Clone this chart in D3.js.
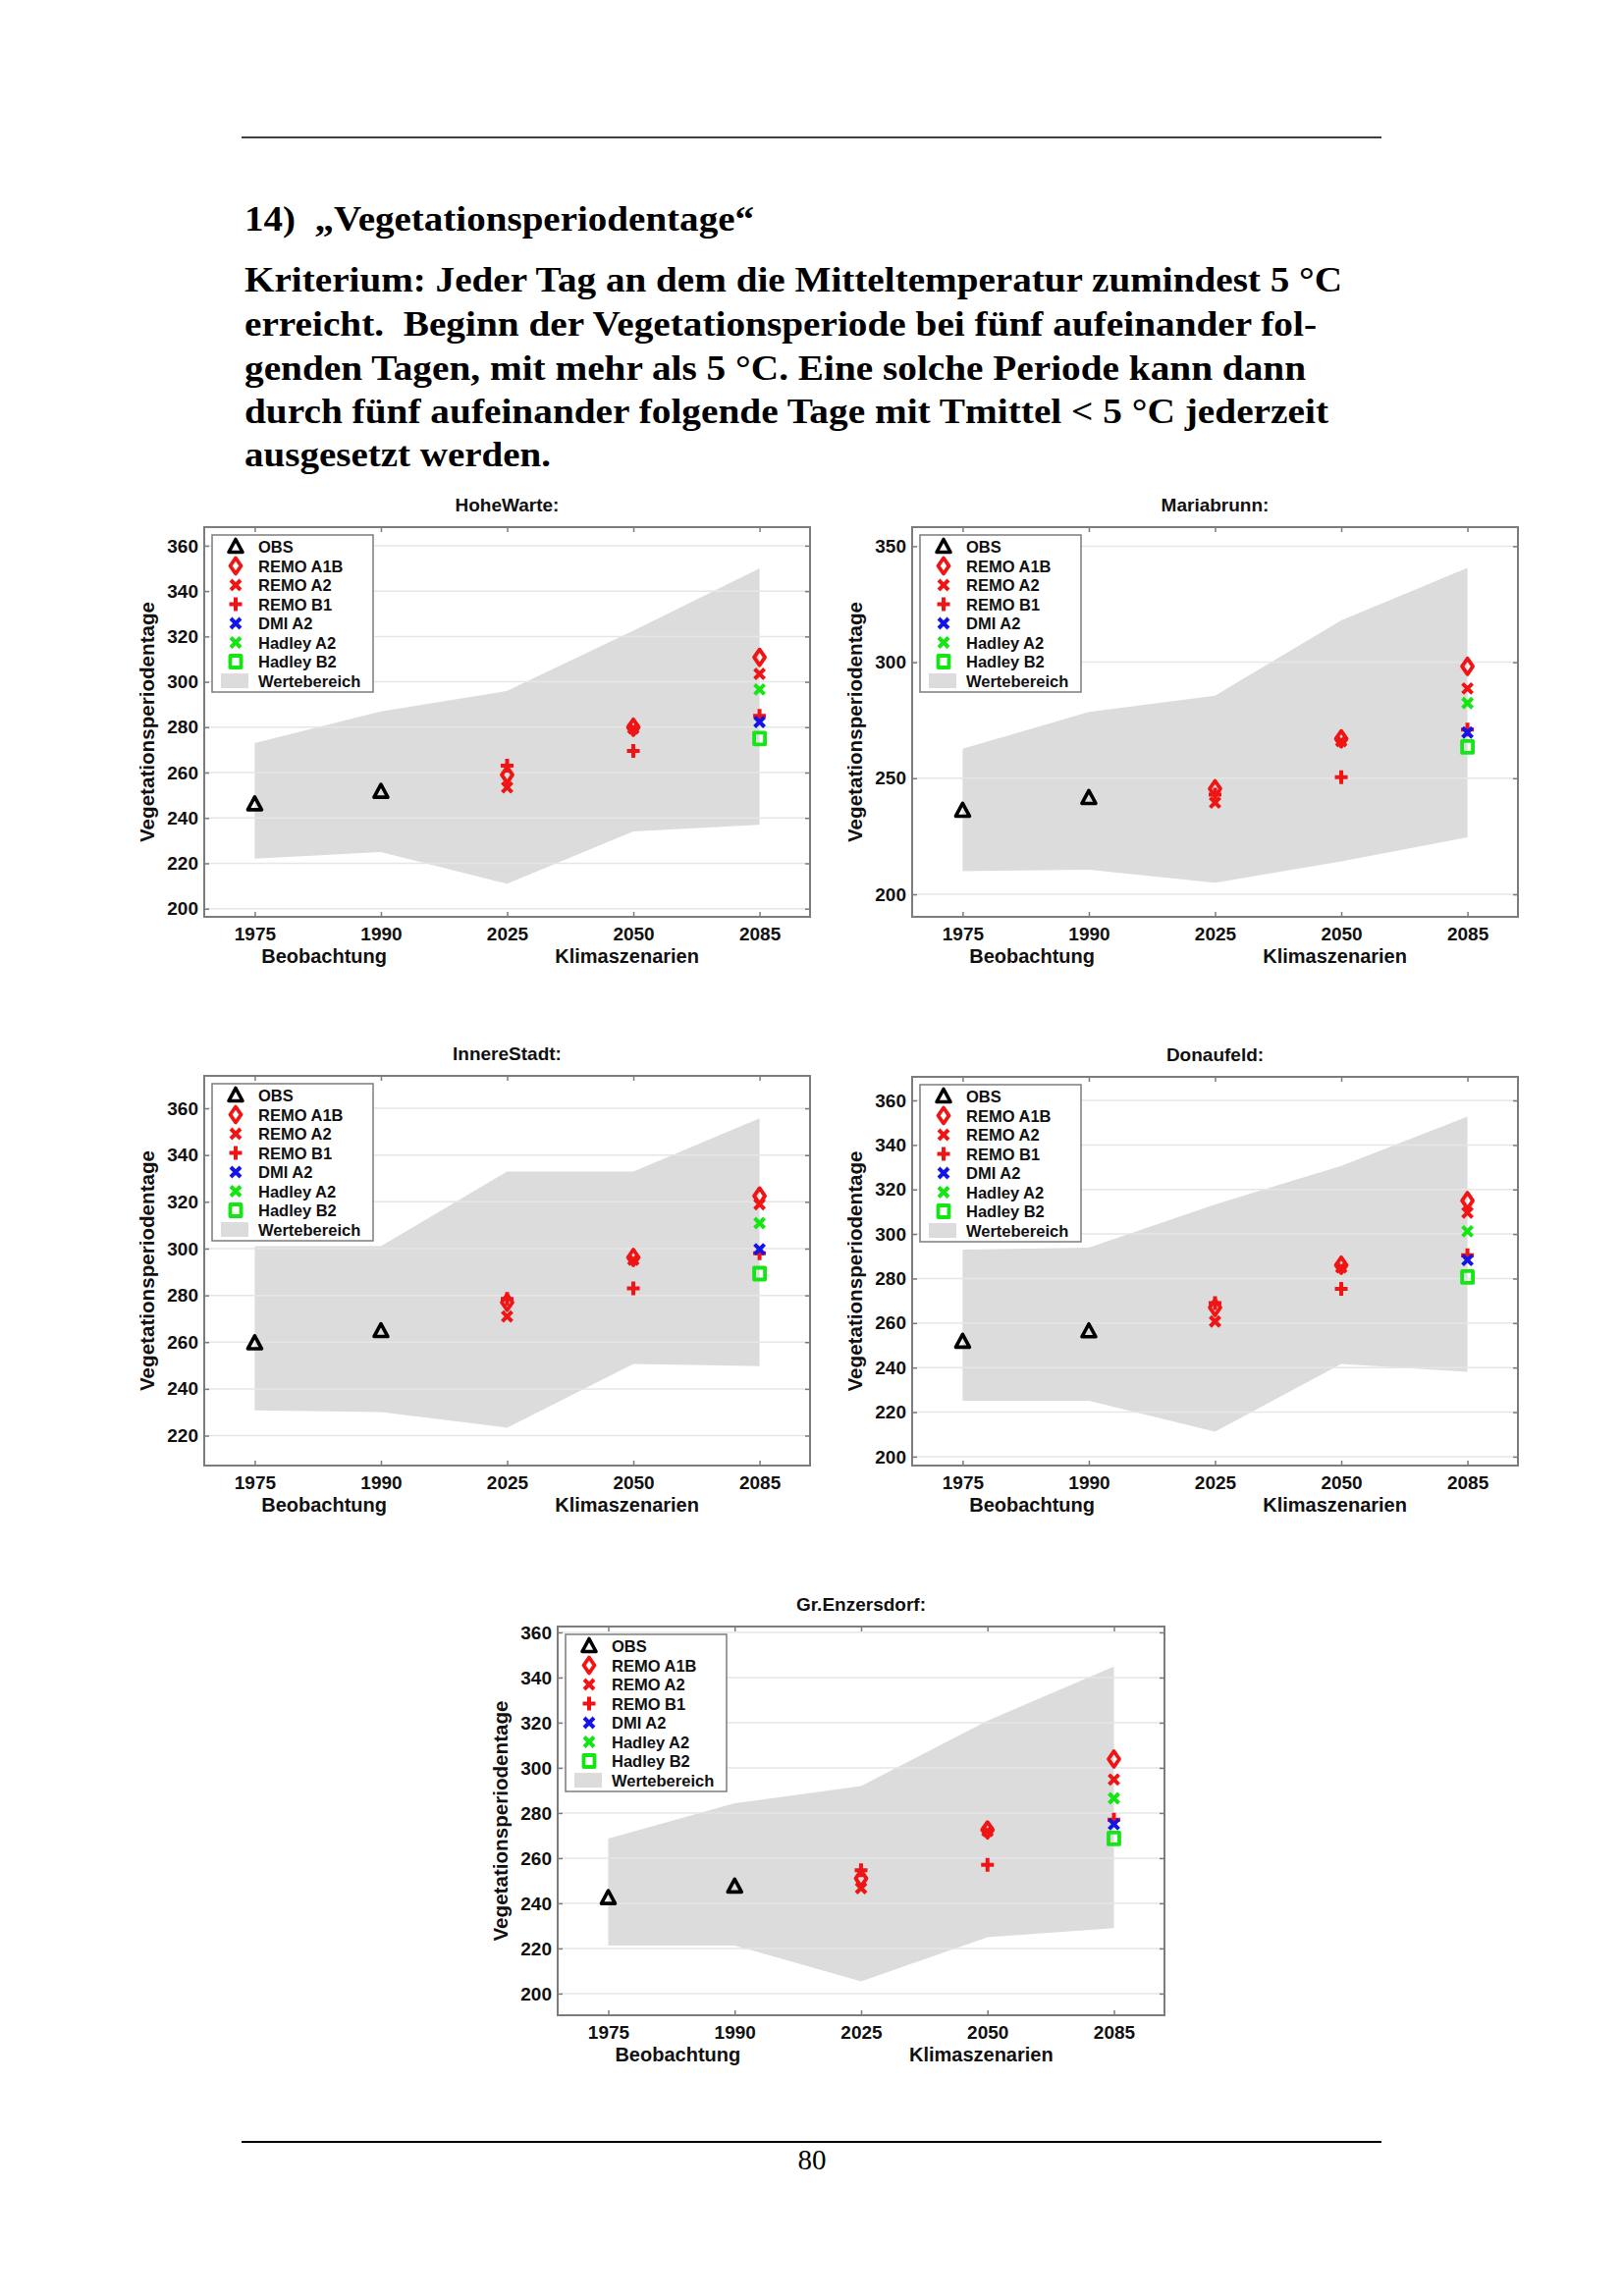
<!DOCTYPE html>
<html>
<head>
<meta charset="utf-8">
<script src="https://cdn.jsdelivr.net/npm/d3@7/dist/d3.min.js"></script>
<style>
  html, body { margin: 0; padding: 0; background: #ffffff; }
  svg { display: block; }
</style>
</head>
<body>
<script>
// ---------------- DATA ----------------
const categories = ["1975", "1990", "2025", "2050", "2085"];
const stations = ["HoheWarte:", "Mariabrunn:", "InnereStadt:", "Donaufeld:", "Gr.Enzersdorf:"];
const legendLabels = ["OBS", "REMO A1B", "REMO A2", "REMO B1", "DMI A2", "Hadley A2", "Hadley B2", "Wertebereich"];

// observations (1975, 1990), per station
const obsValues = [[246, 251.5], [236, 241.5], [259.5, 264.7], [251.6, 256.3], [242.3, 247.4]];
// scenarios (2025, 2050, 2085), per station
const remoA1B = [[259, 280, 310.8], [245.5, 267, 298.2], [277, 296.2, 322.5], [267, 286, 315], [251, 272.5, 303.9]];
const remoA2  = [[253.5, 279.5, 303.5], [239.5, 266, 288.7], [271, 295.2, 319], [260.7, 285, 309.6], [246.7, 272, 294.8]];
const remoB1  = [[263, 269.5, 285], [243, 250.5, 271], [278.5, 283, 298], [269, 275.4, 290.5], [254.6, 257, 277]];
// 2085 only, per station
const dmiA2    = [282.3, 269.7, 299.7, 288.3, 275];
const hadleyA2 = [296.6, 282.4, 310.9, 301.2, 286.5];
const hadleyB2 = [275, 263.5, 289.3, 280.7, 268.7];
// Wertebereich (range) at the five categories, per station
const rangeUpper = [[273, 287, 296, 322.5, 350], [262.7, 278.6, 285.6, 318, 340.6], [301, 301, 333, 333, 355.7], [293, 293.9, 313.3, 330.6, 352.7], [268.7, 284.3, 291.9, 320.9, 344.9]];
const rangeLower = [[222, 225, 211, 234, 237], [210, 210.6, 205, 214.2, 224.6], [230.8, 230.1, 223.4, 250.7, 249.7], [225.1, 225.1, 211.2, 241.6, 238.1], [221.3, 221.3, 205.4, 225, 229]];
// axis limits and tick labels, per station
const yLimits = [[196.4, 368.2], [190.3, 358.2], [207.2, 373.9], [196, 370.6], [190.4, 362.6]];
const yTicks = [[200, 220, 240, 260, 280, 300, 320, 340, 360], [200, 250, 300, 350], [220, 240, 260, 280, 300, 320, 340, 360], [200, 220, 240, 260, 280, 300, 320, 340, 360], [200, 220, 240, 260, 280, 300, 320, 340, 360]];

// ---------------- LAYOUT ----------------
const W = 1653, H = 2339;
const panels = [
  {x0: 208, x1: 825, y0: 537, y1: 934},
  {x0: 929, x1: 1546, y0: 537, y1: 934},
  {x0: 208, x1: 825, y0: 1096, y1: 1493},
  {x0: 929, x1: 1546, y0: 1097, y1: 1493},
  {x0: 568, x1: 1186, y0: 1657, y1: 2053}
];
const COL = {red: "#f01414", blue: "#1414e6", green: "#14e614", black: "#000000", fill: "#dcdcdc", frame: "#7c7c7c", grid: "#e6e6e6"};
const SANS = "'Liberation Sans', Arial, Helvetica, sans-serif";
const SERIF = "'Liberation Serif', 'Times New Roman', serif";

const svg = d3.select("body").append("svg").attr("width", W).attr("height", H);
svg.append("rect").attr("width", W).attr("height", H).attr("fill", "#fff");

// header rules
svg.append("line").attr("x1", 246).attr("x2", 1407).attr("y1", 140).attr("y2", 140).attr("stroke", "#000").attr("stroke-width", 1.6);
svg.append("line").attr("x1", 246).attr("x2", 1407).attr("y1", 2182).attr("y2", 2182).attr("stroke", "#000").attr("stroke-width", 1.8);
svg.append("text").attr("x", 827).attr("y", 2210).attr("text-anchor", "middle")
  .attr("font-family", SERIF).attr("font-size", 29).text("80");

// heading text
const heading = [
  {t: "14)  \u201EVegetationsperiodentage\u201C", y: 235, w: 519},
  {t: "Kriterium: Jeder Tag an dem die Mitteltemperatur zumindest 5 \u00B0C", y: 297, w: 1118},
  {t: "erreicht.  Beginn der Vegetationsperiode bei f\u00FCnf aufeinander fol-", y: 342, w: 1092},
  {t: "genden Tagen, mit mehr als 5 \u00B0C. Eine solche Periode kann dann", y: 387, w: 1081},
  {t: "durch f\u00FCnf aufeinander folgende Tage mit Tmittel < 5 \u00B0C jederzeit", y: 431, w: 1104},
  {t: "ausgesetzt werden.", y: 475, w: 312}
];
svg.selectAll("text.head").data(heading).join("text")
  .attr("class", "head")
  .attr("x", 249).attr("y", d => d.y)
  .attr("font-family", SERIF).attr("font-weight", "bold").attr("font-size", 36)
  .attr("textLength", d => d.w).attr("lengthAdjust", "spacingAndGlyphs")
  .style("white-space", "pre")
  .text(d => d.t);

// ---------------- MARKERS ----------------
const markerPath = {
  tri: "M0,-7.5L7,5.5L-7,5.5Z",
  dia: "M0,-8L5.5,0L0,8L-5.5,0Z",
  x: "M-5,-5L5,5M-5,5L5,-5",
  plus: "M-6.5,0L6.5,0M0,-7L0,7",
  sq: "M-5.5,-6L5.5,-6L5.5,6L-5.5,6Z"
};
const seriesStyle = [
  {shape: "tri", color: COL.black, sw: 3.6},
  {shape: "dia", color: COL.red, sw: 3.8},
  {shape: "x", color: COL.red, sw: 4},
  {shape: "plus", color: COL.red, sw: 4},
  {shape: "x", color: COL.blue, sw: 4},
  {shape: "x", color: COL.green, sw: 4},
  {shape: "sq", color: COL.green, sw: 3.8}
];

function drawMarker(g, style, cx, cy) {
  g.append("path").attr("d", markerPath[style.shape])
    .attr("transform", `translate(${cx},${cy})`)
    .attr("fill", "none").attr("stroke", style.color)
    .attr("stroke-width", style.sw).attr("stroke-linejoin", "round").attr("stroke-linecap", "butt");
}

// ---------------- PANELS ----------------
stations.forEach((name, i) => {
  const p = panels[i];
  const g = svg.append("g");
  const x = d3.scaleLinear().domain([0.6, 5.4]).range([p.x0, p.x1]);
  const y = d3.scaleLinear().domain(yLimits[i]).range([p.y1, p.y0]);

  // range polygon
  const rangeData = categories.map((c, j) => ({pos: j + 1, lo: rangeLower[i][j], hi: rangeUpper[i][j]}));
  g.append("path").datum(rangeData)
    .attr("d", d3.area().x(d => x(d.pos)).y0(d => y(d.lo)).y1(d => y(d.hi)))
    .attr("fill", COL.fill);

  // grid
  g.selectAll("line.grid").data(yTicks[i]).join("line")
    .attr("x1", p.x0).attr("x2", p.x1)
    .attr("y1", d => y(d)).attr("y2", d => y(d))
    .attr("stroke", COL.grid).attr("stroke-width", 1.5);

  // axes (inward ticks)
  const axStyle = sel => {
    sel.select(".domain").remove();
    sel.selectAll(".tick line").attr("stroke", COL.frame).attr("stroke-width", 1.5);
    sel.selectAll("text").attr("font-family", SANS).attr("font-weight", "bold").attr("font-size", 19).attr("fill", "#111");
  };
  g.append("g").attr("transform", `translate(${p.x0},0)`)
    .call(d3.axisLeft(y).tickValues(yTicks[i]).tickSize(-5).tickPadding(6).tickFormat(d3.format("d"))).call(axStyle);
  g.append("g").attr("transform", `translate(${p.x1},0)`)
    .call(d3.axisRight(y).tickValues(yTicks[i]).tickSize(-5).tickFormat("")).call(axStyle);
  g.append("g").attr("transform", `translate(0,${p.y1})`)
    .call(d3.axisBottom(x).tickValues([1, 2, 3, 4, 5]).tickSize(-5).tickPadding(11).tickFormat(d => categories[d - 1])).call(axStyle);
  g.append("g").attr("transform", `translate(0,${p.y0})`)
    .call(d3.axisTop(x).tickValues([1, 2, 3, 4, 5]).tickSize(-5).tickFormat("")).call(axStyle);

  // frame
  g.append("rect").attr("x", p.x0).attr("y", p.y0).attr("width", p.x1 - p.x0).attr("height", p.y1 - p.y0)
    .attr("fill", "none").attr("stroke", COL.frame).attr("stroke-width", 2);

  // texts
  const txt = (tx, ty, s, size, extra) => {
    const t = g.append("text").attr("x", tx).attr("y", ty).attr("text-anchor", "middle")
      .attr("font-family", SANS).attr("font-weight", "bold").attr("font-size", size).attr("fill", "#111").text(s);
    if (extra) extra(t);
    return t;
  };
  txt((p.x0 + p.x1) / 2, p.y0 - 16, name, 19);
  txt(x(1.55), p.y1 + 47, "Beobachtung", 20);
  txt(x(3.95), p.y1 + 47, "Klimaszenarien", 20);
  const cy = (p.y0 + p.y1) / 2;
  txt(0, 0, "Vegetationsperiodentage", 20, t => t.attr("transform", `translate(${p.x0 - 51},${cy}) rotate(-90)`)
    .attr("textLength", 245).attr("lengthAdjust", "spacingAndGlyphs"));

  // markers
  obsValues[i].forEach((v, j) => drawMarker(g, seriesStyle[0], x(j + 1), y(v)));
  [remoA1B, remoA2, remoB1].forEach((arr, s) => {
    arr[i].forEach((v, j) => drawMarker(g, seriesStyle[s + 1], x(j + 3), y(v)));
  });
  [dmiA2, hadleyA2, hadleyB2].forEach((arr, s) => {
    drawMarker(g, seriesStyle[s + 4], x(5), y(arr[i]));
  });

  // legend
  const lx = p.x0 + 8, ly = p.y0 + 8;
  const lg = g.append("g");
  lg.append("rect").attr("x", lx).attr("y", ly).attr("width", 164).attr("height", 160)
    .attr("fill", "#fff").attr("stroke", COL.frame).attr("stroke-width", 1.5);
  legendLabels.forEach((lab, k) => {
    const ry = p.y0 + 20 + k * 19.5;
    if (k < 7) drawMarker(lg, seriesStyle[k], p.x0 + 32, ry);
    else lg.append("rect").attr("x", p.x0 + 17).attr("y", ry - 7.5).attr("width", 28).attr("height", 15).attr("fill", COL.fill);
    lg.append("text").attr("x", p.x0 + 55).attr("y", ry + 6)
      .attr("font-family", SANS).attr("font-weight", "bold").attr("font-size", 16.5).attr("fill", "#111").text(lab);
  });
});
</script>
</body>
</html>
